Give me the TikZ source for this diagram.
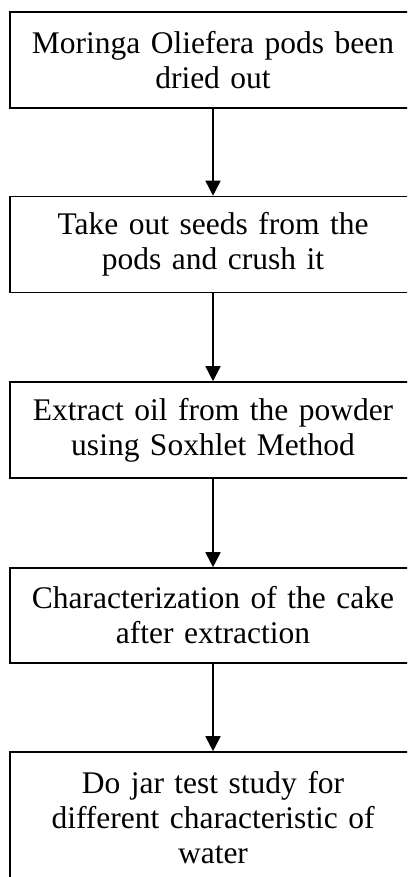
\documentclass[tikz,border=0pt]{standalone}
\usepackage{fontspec}
\setmainfont{Liberation Serif}
\usetikzlibrary{arrows.meta}

\tikzset{
  stepbox/.style={draw, line width=1.6pt, rectangle, minimum width=406pt, minimum height=96pt,
    text width=390pt, align=center, inner sep=0pt, font=\fontsize{31.5}{35}\selectfont},
  flow/.style={line width=1.6pt, -{Triangle[width=15pt,length=15pt]}}
}

\begin{document}
\begin{tikzpicture}[x=1pt,y=1pt]

\def\width{407}
\def\height{877}
\def\ox{213}

\path [use as bounding box] (0,0) rectangle (\width,-\height);
\clip (0,0) rectangle (\width,-\height);

% BOXES
\node [stepbox] (dry) at (\ox,-60) {Moringa Oliefera pods been\\dried out};
\node [stepbox] (seed) at (\ox,-244.5) {Take out seeds from the\\pods and crush it};
\node [stepbox] (oil) at (\ox,-430) {Extract oil from the powder\\using Soxhlet Method};
\node [stepbox, minimum height=95pt] (cake) at (\ox,-615.5) {Characterization of the cake\\after extraction};
\node [stepbox, minimum height=131pt] (jar) at (\ox,-817.5) {Do jar test study for\\different characteristic of\\water};

% ARROWS
\draw [flow] (dry) -- (seed);
\draw [flow] (seed) -- (oil);
\draw [flow] (oil) -- (cake);
\draw [flow] (cake) -- (jar);

\end{tikzpicture}
\end{document}
